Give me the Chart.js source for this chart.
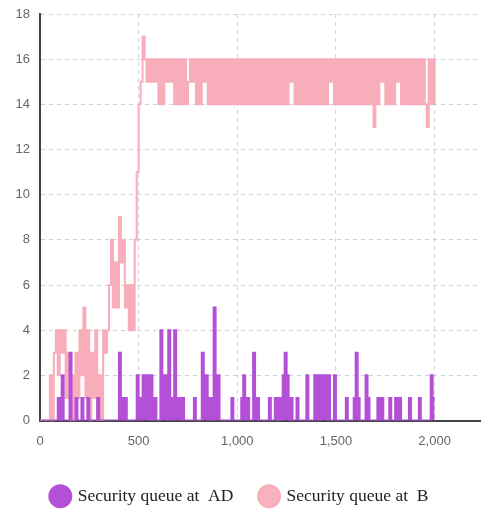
<!DOCTYPE html>
<html>
<head>
<meta charset="utf-8">
<script src="https://cdn.jsdelivr.net/npm/chart.js@4"></script>
<style>
  html, body { margin: 0; padding: 0; background: #fff; }
  #wrap { width: 482px; height: 512px; }
</style>
</head>
<body>
<div id="wrap"><canvas id="queueChart"></canvas></div>
<script>
/* ---------- data ---------- */

// samples every 10 time units, 0 .. 2000
const sampleStep = 10;

const queueAD = [
  0,0,0,0,0,0,0,0,0,1,
  0,2,0,0,0,3,0,0,1,0,
  0,1,0,0,1,0,0,0,0,1,
  0,0,0,0,0,0,0,0,0,0,
  3,1,0,1,0,0,0,0,0,2,
  1,0,2,1,2,0,2,0,1,0,
  0,4,1,2,0,4,1,0,4,1,
  1,0,1,0,0,0,0,0,1,0,
  0,0,3,1,2,0,1,0,5,1,
  2,0,0,0,0,0,0,1,0,0,
  0,0,1,2,0,1,0,0,3,1,
  1,0,0,0,0,0,1,0,0,1,
  0,1,0,2,3,2,0,1,0,0,
  1,0,0,0,0,2,0,0,0,2,
  2,0,2,1,2,0,2,0,0,2,
  0,0,0,0,0,1,0,0,0,1,
  3,1,0,0,0,2,1,0,0,0,
  0,1,0,1,0,0,0,1,0,0,
  1,0,1,0,0,0,0,1,0,0,
  0,0,1,0,0,0,0,0,2,1,
  1
];

const queueB = [
  0,0,0,0,0,2,0,3,4,2,
  4,3,4,1,3,0,2,0,3,1,
  4,2,5,1,4,0,3,1,4,0,
  2,0,4,3,4,6,8,5,7,5,
  9,7,8,5,6,4,6,4,8,11,
  14,15,17,16,15,16,15,16,15,16,
  14,16,14,16,15,16,15,16,14,16,
  14,16,14,16,14,15,16,15,16,14,
  16,14,16,15,16,14,16,14,16,14,
  16,14,16,14,16,14,16,14,16,14,
  16,14,16,14,16,14,16,14,16,14,
  16,14,16,14,16,14,16,14,16,14,
  16,14,16,14,16,14,16,15,16,14,
  16,14,16,14,16,14,16,14,16,14,
  16,14,16,14,16,14,16,15,16,14,
  16,14,16,14,16,14,16,14,16,14,
  16,14,16,14,16,14,16,14,16,13,
  16,14,16,15,16,14,16,14,16,14,
  16,15,16,14,16,14,16,14,16,14,
  16,14,16,14,16,14,13,16,14,16,
  14
];

const xTickValues = [0, 500, 1000, 1500, 2000];

const seriesNames = ['Security queue at  AD', 'Security queue at  B'];

/* ---------- chart ---------- */

const toPoints = arr => arr.map((v, i) => ({ x: i * sampleStep, y: v }));

const gridDash = {
  color: 'rgba(190,190,190,0.7)',
  lineWidth: 1,
  drawTicks: false
};

new Chart(document.getElementById('queueChart'), {
  type: 'line',
  data: {
    datasets: [
      {
        label: seriesNames[0],
        data: toPoints(queueAD),
        borderColor: '#b450d8',
        backgroundColor: '#b450d8',
        borderWidth: 2,
        stepped: true,
        fill: 'origin',
        pointRadius: 0
      },
      {
        label: seriesNames[1],
        data: toPoints(queueB),
        borderColor: '#f8adba',
        backgroundColor: '#f8b1bd',
        borderWidth: 2,
        stepped: true,
        pointRadius: 0
      }
    ]
  },
  options: {
    responsive: true,
    maintainAspectRatio: false,
    animation: false,
    layout: { padding: { top: 14, right: 2, left: 0, bottom: -3 } },
    plugins: {
      tooltip: { enabled: false },
      legend: {
        position: 'bottom',
        labels: {
          usePointStyle: true,
          pointStyle: 'circle',
          boxHeight: 15.5,
          color: '#222',
          padding: 27,
          font: { family: 'Liberation Serif', size: 17.5 }
        }
      }
    },
    scales: {
      x: {
        type: 'linear',
        min: 0,
        max: 2230,
        z: 1,
        grid: gridDash,
        border: { color: '#444', width: 2, dash: [4, 4] },
        afterBuildTicks: s => { s.ticks = xTickValues.map(v => ({ value: v })); },
        ticks: {
          color: '#666',
          padding: 13,
          maxRotation: 0,
          font: { family: 'Liberation Sans', size: 13 }
        },
        afterFit: s => { s.height = 40; }
      },
      y: {
        min: 0,
        max: 18,
        z: 1,
        grid: gridDash,
        border: { color: '#444', width: 2, dash: [4, 4] },
        ticks: {
          stepSize: 2,
          color: '#666',
          padding: 10,
          font: { family: 'Liberation Sans', size: 13 }
        },
        afterFit: s => { s.width = 40; s.paddingTop = 0; }
      }
    }
  }
});
</script>
</body>
</html>
